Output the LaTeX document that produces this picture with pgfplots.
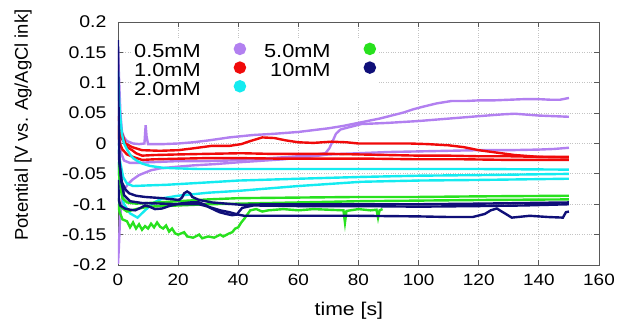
\documentclass[border=0pt]{standalone}
\usepackage{fontspec}
\setmainfont{Liberation Sans}[FakeStretch=1.15]
\newfontfamily\yfont{Liberation Sans}
\usepackage{pgfplots}
\pgfplotsset{compat=1.18}
\definecolor{cpur}{RGB}{178,128,240}
\definecolor{cred}{RGB}{240,10,10}
\definecolor{ccyan}{RGB}{20,235,240}
\definecolor{cgreen}{RGB}{40,225,30}
\definecolor{cnavy}{RGB}{15,15,120}
\definecolor{cgrid}{RGB}{195,195,195}
\begin{document}
\begin{tikzpicture}
\useasboundingbox (-118bp,-55bp) rectangle (507bp,265bp);
\begin{axis}[
 scale only axis, width=481bp, height=243bp,
 xmin=0,xmax=160,ymin=-0.2,ymax=0.2,
 xtick={0,20,...,160},
 xticklabels={0,20,40,60,80,100,120,140,160},
 ytick={-0.2,-0.15,-0.1,-0.05,0,0.05,0.1,0.15,0.2},
 yticklabels={-0.2,-0.15,-0.1,-0.05,0,0.05,0.1,0.15,0.2},
 grid=major, grid style={cgrid, dotted, line width=0.8bp},
 axis line style={draw=black!65, line width=0.8bp},
 major tick length=5bp, tick style={black!65, line width=0.8bp},
 xticklabel style={font=\fontsize{16.5}{18}\selectfont, yshift=-6bp},
 yticklabel style={font=\fontsize{17}{19}\selectfont, xshift=-8bp},
 xlabel={time [s]}, ylabel={\yfont Potential [V vs. Ag/AgCl ink]},
 xlabel style={font=\fontsize{18.5}{20}\selectfont, at={(axis description cs:0.48,-0.19)}, anchor=center},
 ylabel style={font=\fontsize{18.5}{20}\selectfont, at={(axis description cs:-0.1975,0.576)}, anchor=center},
 legend style={at={(axis description cs:0.027,0.928)}, anchor=north west, draw=none, fill=white, inner sep=3bp,
   font=\fontsize{19}{20}\selectfont, nodes={inner sep=0pt, text height=9.5bp, text depth=3.5bp}, row sep=0pt,
   /tikz/every odd column/.append style={column sep=33bp},
   /tikz/every even column/.append style={column sep=18bp}},
 legend columns=2, legend plot pos=right, legend cell align=right,
 legend image code/.code={\fill[#1] (0bp,6bp) circle (5bp);},
 every axis plot/.append style={line width=2.4bp},
]
\addlegendimage{cpur}\addlegendentry{0.5mM}
\addlegendimage{cgreen}\addlegendentry{5.0mM}
\addlegendimage{cred}\addlegendentry{1.0mM}
\addlegendimage{cnavy}\addlegendentry{10mM}
\addlegendimage{ccyan}\addlegendentry{2.0mM}
% 0.5 mM
\addplot[cpur, forget plot] coordinates {(0,0.155)(0.4,0.1)(0.8,0.05)(1.3,0.02)(2,0.01)(3,0.004)(5,0)(7,-0.001)(8.8,0)(9.2,0.03)(9.5,0.012)(10,-0.001)(15,-0.001)(20,0)(25,0.002)(30,0.005)(37,0.01)(45,0.014)(52,0.016)(60,0.019)(65,0.022)(70,0.025)(75,0.029)(80,0.034)(84,0.038)(87,0.041)(91,0.046)(95,0.051)(98,0.056)(101,0.06)(106,0.066)(111,0.07)(116,0.07)(120,0.071)(125,0.071)(130,0.072)(135,0.073)(140,0.073)(144,0.072)(147,0.072)(150,0.075)};
\addplot[cpur, forget plot] coordinates {(0,0.1)(0.4,0.03)(1,-0.015)(2,-0.028)(4,-0.032)(7,-0.032)(10,-0.031)(20,-0.029)(30,-0.029)(37,-0.028)(48,-0.025)(60,-0.021)(66,-0.018)(69,-0.016)(70.3,-0.008)(71.5,0.005)(72.5,0.016)(74,0.023)(77,0.027)(81,0.032)(90,0.034)(100,0.037)(110,0.041)(120,0.045)(128,0.048)(132,0.049)(140,0.046)(150,0.044)};
\addplot[cpur, forget plot] coordinates {(0,-0.198)(0.3,-0.17)(0.7,-0.12)(1.5,-0.09)(2.3,-0.074)(3.5,-0.066)(4.7,-0.06)(7,-0.052)(11,-0.044)(14,-0.041)(18,-0.039)(25,-0.036)(32,-0.034)(40,-0.031)(55,-0.026)(65,-0.021)(70,-0.018)(80,-0.016)(90,-0.014)(100,-0.013)(110,-0.012)(120,-0.011)(130,-0.011)(140,-0.01)(145,-0.009)(150,-0.007)};
% 1.0 mM
\addplot[cred, forget plot] coordinates {(0,0.045)(0.5,0.035)(1.3,0.017)(2.5,0.0)(4.7,-0.006)(8,-0.011)(14,-0.012)(20,-0.011)(25,-0.008)(31,-0.004)(37,-0.004)(41,-0.001)(44,0.004)(48,0.01)(52,0.009)(56,0.005)(60,0.002)(65,0.001)(71,0.003)(76,0.002)(80,0.0)(87,0.0)(97,0.0)(103,-0.001)(110,-0.003)(115,-0.006)(120,-0.011)(126,-0.015)(132,-0.019)(140,-0.022)(150,-0.023)};
\addplot[cred, forget plot] coordinates {(0,0.03)(0.6,0.015)(1.3,0.008)(3,-0.006)(4.7,-0.011)(6,-0.016)(8,-0.02)(12,-0.019)(20,-0.018)(30,-0.017)(41,-0.016)(50,-0.017)(60,-0.017)(70,-0.017)(80,-0.018)(90,-0.019)(100,-0.02)(110,-0.02)(120,-0.021)(130,-0.021)(140,-0.022)(150,-0.022)};
\addplot[cred, forget plot] coordinates {(0,0.02)(0.6,0.0)(1.5,-0.01)(3,-0.018)(5,-0.022)(8,-0.027)(12,-0.026)(20,-0.025)(30,-0.024)(40,-0.024)(55,-0.025)(70,-0.025)(85,-0.025)(100,-0.026)(115,-0.026)(130,-0.027)(150,-0.027)};
% 2.0 mM
\addplot[ccyan, forget plot] coordinates {(0,0.12)(0.4,0.07)(0.7,0.045)(1.3,0.016)(2,0.0)(3,-0.01)(4,-0.018)(5,-0.024)(6.5,-0.029)(8,-0.033)(10.7,-0.037)(15,-0.04)(20,-0.041)(27,-0.042)(50,-0.042)(94,-0.042)(120,-0.042)(150,-0.043)};
\addplot[ccyan, forget plot] coordinates {(0,0.0)(0.7,-0.03)(1.7,-0.055)(3,-0.066)(5,-0.07)(10,-0.069)(16,-0.068)(30,-0.064)(40,-0.061)(60,-0.058)(81,-0.055)(100,-0.053)(120,-0.052)(150,-0.05)};
\addplot[ccyan, forget plot] coordinates {(0,-0.03)(0.7,-0.07)(2,-0.1)(4,-0.115)(6.5,-0.122)(9,-0.11)(12,-0.097)(15,-0.09)(20,-0.086)(30,-0.081)(40,-0.078)(60,-0.07)(81,-0.063)(100,-0.061)(120,-0.06)(150,-0.058)};
% 5.0 mM
\addplot[cgreen, forget plot] coordinates {(0,-0.03)(0.7,-0.07)(1.5,-0.09)(3,-0.097)(6,-0.099)(10,-0.098)(20,-0.095)(30,-0.092)(40,-0.09)(60,-0.089)(80,-0.088)(100,-0.088)(120,-0.087)(150,-0.086)};
\addplot[cgreen, forget plot] coordinates {(0,-0.09)(1,-0.105)(3,-0.112)(6,-0.108)(10,-0.104)(20,-0.102)(30,-0.1)(40,-0.099)(60,-0.097)(80,-0.095)(100,-0.094)(120,-0.093)(150,-0.092)};
\addplot[cgreen, forget plot] coordinates {(0,-0.1)(0.5,-0.112)(1.5,-0.125)(3,-0.128)(4,-0.138)(5,-0.13)(6,-0.14)(7,-0.133)(8,-0.142)(9,-0.136)(10,-0.14)(11,-0.132)(12,-0.138)(13,-0.13)(14,-0.137)(15,-0.14)(16,-0.135)(17,-0.145)(18,-0.14)(19,-0.148)(20,-0.15)(22,-0.146)(23,-0.153)(25,-0.155)(27,-0.15)(28,-0.156)(30,-0.153)(32,-0.155)(34,-0.15)(35,-0.153)(37,-0.148)(38,-0.146)(39,-0.14)(40,-0.138)(41,-0.13)(42,-0.124)(43,-0.117)(44,-0.11)(46,-0.108)(48,-0.112)(50,-0.11)(55,-0.108)(60,-0.11)(65,-0.108)(70,-0.109)(75,-0.11)(75.5,-0.13)(76,-0.111)(80,-0.108)(84,-0.11)(86,-0.109)(86.5,-0.122)(87,-0.11)(88,-0.108)};
% 10 mM
\addplot[cnavy, forget plot] coordinates {(0,-0.01)(0.7,-0.041)(1.3,-0.064)(2.5,-0.076)(3.7,-0.082)(6,-0.086)(9,-0.088)(14.7,-0.09)(20.3,-0.093)(21.3,-0.089)(22,-0.082)(23,-0.079)(24,-0.082)(24.7,-0.088)(27,-0.093)(31.3,-0.097)(36,-0.099)(41.3,-0.101)(50,-0.1)(60,-0.1)(80,-0.1)(100,-0.1)(120,-0.099)(150,-0.097)};
\addplot[cnavy, forget plot] coordinates {(0,-0.06)(0.4,-0.095)(0.7,-0.102)(2.3,-0.107)(4,-0.109)(5.7,-0.11)(7.5,-0.106)(9,-0.102)(10.5,-0.104)(12.3,-0.108)(14.7,-0.107)(17,-0.103)(20.3,-0.099)(24,-0.097)(27,-0.097)(29,-0.101)(30.3,-0.105)(33.7,-0.113)(36,-0.116)(38,-0.118)(39.5,-0.117)(40.3,-0.112)(41.3,-0.106)(45,-0.102)(60,-0.103)(80,-0.103)(100,-0.104)(120,-0.103)(135,-0.102)(150,-0.1)};
\addplot[cnavy, forget plot] coordinates {(0,0.17)(0.2,0.05)(0.5,-0.03)(1,-0.06)(2,-0.085)(4,-0.095)(8,-0.098)(15,-0.099)(20,-0.1)(27,-0.1)(30,-0.104)(34,-0.11)(37,-0.113)(40,-0.117)(42,-0.119)(50,-0.119)(60,-0.119)(80,-0.119)(100,-0.12)(110,-0.121)(118,-0.121)(122,-0.116)(124,-0.11)(126,-0.107)(128,-0.113)(131,-0.122)(137,-0.119)(143,-0.121)(148,-0.122)(149,-0.113)(150,-0.112)};
\end{axis}
\end{tikzpicture}
\end{document}
